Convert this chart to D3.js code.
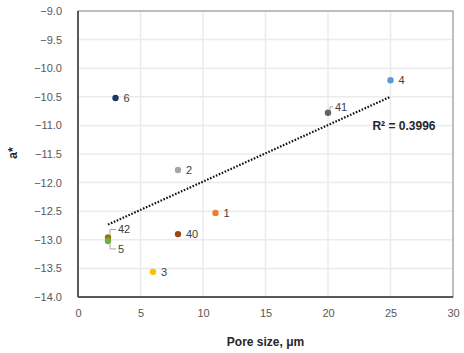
<!DOCTYPE html>
<html>
<head>
<meta charset="utf-8">
<script src="https://cdn.jsdelivr.net/npm/d3@7"></script>
<style>
  body { margin: 0; background: #fff; }
  text { font-family: "Liberation Sans", Arial, sans-serif; }
</style>
</head>
<body>
<svg width="464" height="353"></svg>
<script>
// data
var labels = ["6", "2", "41", "4", "1", "40", "3", "42", "5"];
var poreSize = [3, 8, 20, 25, 11, 8, 6, 2.4, 2.4];
var aStar = [-10.52, -11.78, -10.78, -10.21, -12.53, -12.9, -13.56, -12.96, -13.02];
var xTicks = [0, 5, 10, 15, 20, 25, 30];
var yTicks = [-9, -9.5, -10, -10.5, -11, -11.5, -12, -12.5, -13, -13.5, -14];
var rSquaredText = "R\u00b2 = 0.3996";

// point colours (excel-like palette)
var colors = {"6": "#203864", "2": "#a5a5a5", "41": "#636363", "4": "#5b9bd5", "1": "#ed7d31",
  "40": "#9e480e", "3": "#ffc000", "42": "#997300", "5": "#70ad47"};
// label placement: dx, dy from point, leader: "up" / "down" / none
var labelPos = {"6": [8, 0], "2": [8, 0], "4": [8, 0], "1": [8, 0], "40": [8, 0], "3": [8, 0],
  "41": [7, -6, "up"], "42": [10, -8, "up"], "5": [10, 8, "down"]};

var svg = d3.select("svg"),
  margin = {top: 11, right: 11, bottom: 56, left: 78},
  width = svg.attr("width") - margin.left - margin.right,
  height = svg.attr("height") - margin.top - margin.bottom;

var x = d3.scaleLinear().domain([0, 30]).range([0, width]);
var y = d3.scaleLinear().domain([-14, -9]).range([height, 0]);

var g = svg.append("g")
  .attr("transform", "translate(" + margin.left + "," + margin.top + ")");

// grid
g.selectAll(".hgrid").data(yTicks).enter().append("line")
  .attr("x1", 0).attr("x2", width)
  .attr("y1", d => y(d)).attr("y2", d => y(d))
  .attr("stroke", "#ebebeb").attr("stroke-width", 1.5);
g.selectAll(".vgrid").data(xTicks).enter().append("line")
  .attr("y1", 0).attr("y2", height)
  .attr("x1", d => x(d)).attr("x2", d => x(d))
  .attr("stroke", "#ebebeb").attr("stroke-width", 1.5);

// frame
g.append("rect").attr("width", width).attr("height", height)
  .attr("fill", "none").attr("stroke", "#8c8c8c").attr("stroke-width", 1);
g.append("line").attr("x1", 0).attr("x2", width).attr("y1", height).attr("y2", height)
  .attr("stroke", "#595959").attr("stroke-width", 2);
g.append("line").attr("x1", 0).attr("x2", 0).attr("y1", 0).attr("y2", height)
  .attr("stroke", "#595959").attr("stroke-width", 2);

// axes
var xAxis = g.append("g")
  .attr("transform", "translate(0," + height + ")")
  .call(d3.axisBottom(x).tickValues(xTicks).tickSize(0).tickPadding(12).tickFormat(d3.format("d")));
var yAxis = g.append("g")
  .call(d3.axisLeft(y).tickValues(yTicks).tickSize(0).tickPadding(16).tickFormat(d3.format(".1f")));
[xAxis, yAxis].forEach(function(a) {
  a.select(".domain").remove();
  a.selectAll("text").attr("fill", "#595959").style("font-size", "11px")
    .style("font-family", "Liberation Sans, Arial, sans-serif");
});

// trendline (least squares through the points)
var mx = d3.mean(poreSize), my = d3.mean(aStar),
  sxy = d3.sum(poreSize, (d, i) => (d - mx) * (aStar[i] - my)),
  sxx = d3.sum(poreSize, d => (d - mx) * (d - mx)),
  slope = sxy / sxx, icpt = my - slope * mx;
var x0 = d3.min(poreSize), x1 = d3.max(poreSize);
g.append("line")
  .attr("x1", x(x0)).attr("y1", y(icpt + slope * x0))
  .attr("x2", x(x1)).attr("y2", y(icpt + slope * x1))
  .attr("stroke", "#111").attr("stroke-width", 2.2).attr("stroke-dasharray", "1.6 1.6");

// points
g.selectAll(".pt").data(labels).enter().append("circle")
  .attr("cx", (d, i) => x(poreSize[i]))
  .attr("cy", (d, i) => y(aStar[i]))
  .attr("r", 3.2)
  .attr("fill", d => colors[d]);

// leaders
labels.forEach(function(d, i) {
  var p = labelPos[d];
  if (!p[2]) return;
  var px = x(poreSize[i]), py = y(aStar[i]);
  var s = p[2] == "up" ? -1 : 1;
  g.append("polyline")
    .attr("points", [[px + 2, py + s * 3], [px + 2, py + p[1]], [px + p[0] - 2, py + p[1]]].join(" "))
    .attr("fill", "none").attr("stroke", "#a6a6a6").attr("stroke-width", 1);
});

// labels
g.selectAll(".lbl").data(labels).enter().append("text")
  .attr("x", (d, i) => x(poreSize[i]) + labelPos[d][0])
  .attr("y", (d, i) => y(aStar[i]) + labelPos[d][1])
  .attr("dy", "0.35em")
  .attr("fill", "#404040").style("font-size", "11px")
  .text(d => d);

// R squared
g.append("text")
  .attr("x", x(x1) + 45).attr("y", y(-11.0))
  .attr("dy", "0.35em")
  .attr("text-anchor", "end")
  .attr("fill", "#262626").style("font-size", "12px").style("font-weight", "bold")
  .text(rSquaredText);

// axis titles
svg.append("text")
  .attr("x", margin.left + width / 2).attr("y", 346)
  .attr("text-anchor", "middle")
  .attr("fill", "#262626").style("font-size", "12px").style("font-weight", "bold")
  .text("Pore size, \u03bcm");
svg.append("text")
  .attr("transform", "translate(17,153) rotate(-90)")
  .attr("text-anchor", "middle")
  .attr("fill", "#262626").style("font-size", "12px").style("font-weight", "bold")
  .text("a*");
</script>
</body>
</html>
